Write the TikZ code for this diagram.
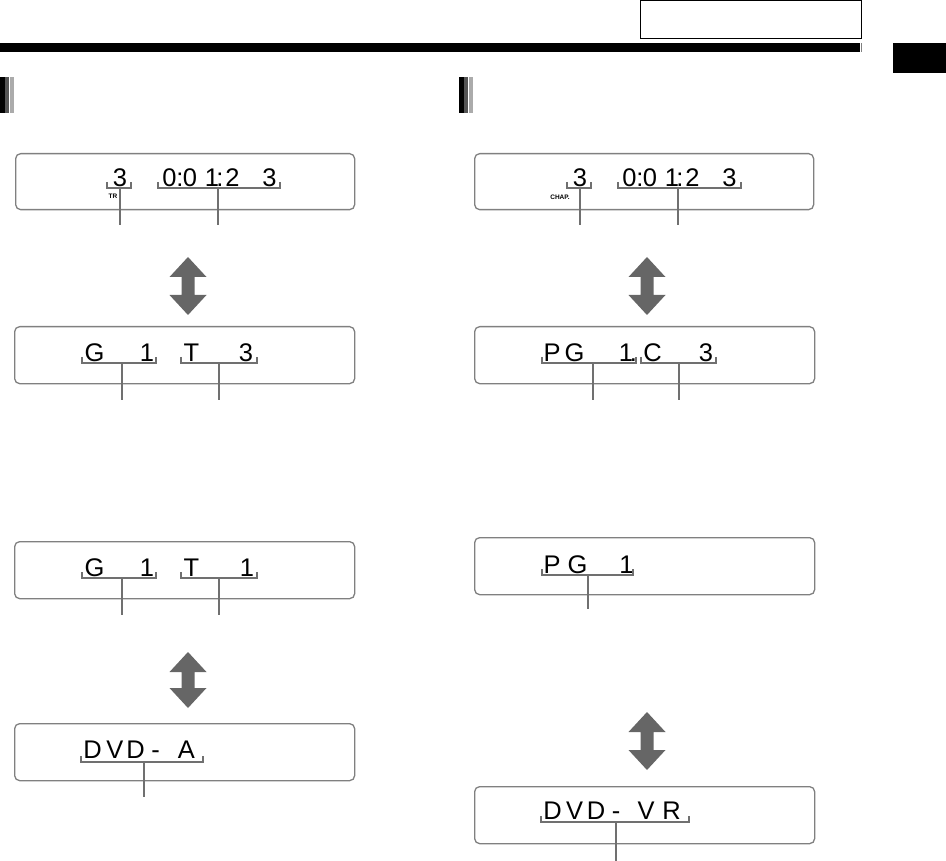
\documentclass[tikz,border=0pt]{standalone}
\usepackage{fontspec}
\setmainfont{Liberation Sans}
\newfontfamily\dispfont{Liberation Sans}
\definecolor{brk}{HTML}{707070}
\definecolor{frame}{HTML}{808080}
\definecolor{arr}{HTML}{666666}
\tikzset{
  disp/.style={draw=frame, line width=1.3pt, rounded corners=5pt},
  dch/.style={anchor=base, inner sep=0pt, font=\dispfont\fontsize{25.5}{25.5}\selectfont},
  tiny/.style={anchor=base, inner sep=0pt, font=\fontsize{6.5}{6.5}\selectfont\bfseries},
  brack/.style={draw=brk, line width=1.8pt},
  updown/.style={fill=arr, draw=none},
}
\newcommand\dbrack[5]{% x1 x2 y stemx stemend
  \draw[brack] (#1,#3-6) -- (#1,#3) -- (#2,#3) -- (#2,#3-6);
  \coordinate (s#4) at (#4,#3);
  \coordinate (e#4) at (#4,#5);
  \draw[brack] (s#4) -- (e#4);
}
\newcommand\udarrow[4]{% name cx ytop ybottom
  \fill[updown] (#2,#3) -- (#2+18.5,#3+20) -- (#2+6.5,#3+20) -- (#2+6.5,#4-20) -- (#2+18.5,#4-20)
     -- (#2,#4) -- (#2-18.5,#4-20) -- (#2-6.5,#4-20) -- (#2-6.5,#3+20) -- (#2-18.5,#3+20) -- cycle;
  \coordinate (#1) at (#2,#3);
}
\begin{document}
\begin{tikzpicture}[x=1pt,y=-1pt]
\useasboundingbox (0,0) rectangle (946,861);
% header
\node[draw=black, line width=1pt, minimum width=221pt, minimum height=38pt, anchor=north west, inner sep=0pt] (hbox) at (640,0.5) {};
\fill[black] (0,43) rectangle (860,52);
\draw[gray, line width=0.8pt] (861.5,43) -- (861.5,52);
\fill[black] (893,43) rectangle (946,73);
% section markers
\fill[black] (0,77) rectangle (5,113);
\fill[black!67] (5,77) rectangle (9,113);
\fill[black!33] (10,77) rectangle (14,113);
\fill[black] (459,77) rectangle (464,113);
\fill[black!67] (464,77) rectangle (468,113);
\fill[black!33] (469,77) rectangle (473,113);

% displays
\node[disp, anchor=north west, minimum width=339pt, minimum height=56pt] (L1) at (15,153) {};
\node[disp, anchor=north west, minimum width=340pt, minimum height=57pt] (L2) at (14,326) {};
\node[disp, anchor=north west, minimum width=340pt, minimum height=57pt] (L3) at (14,541) {};
\node[disp, anchor=north west, minimum width=340pt, minimum height=57pt] (L4) at (14,723) {};
\node[disp, anchor=north west, minimum width=339pt, minimum height=56pt] (R1) at (474,153) {};
\node[disp, anchor=north west, minimum width=340pt, minimum height=57pt] (R2) at (474,326) {};
\node[disp, anchor=north west, minimum width=340pt, minimum height=57pt] (R3) at (474,537) {};
\node[disp, anchor=north west, minimum width=340pt, minimum height=57pt] (R4) at (474,786) {};

% L1 text
\node[dch] (l1a) at (120,187) {3};
\node[tiny] (l1tr) at (113,199) {TR};
\node[dch] (l1b) at (169.5,187) {0};
\node[dch] (l1c) at (180,187) {:};
\node[dch] (l1d) at (190,187) {0};
\node[dch] (l1e) at (212,187) {1};
\node[dch] (l1f) at (220,187) {:};
\node[dch] (l1g) at (232.5,187) {2};
\node[dch] (l1h) at (269.5,187) {3};
\dbrack{107}{131}{188}{120}{225}
\dbrack{158}{280}{188}{218}{225}

% R1 text
\node[dch] (r1a) at (580,187) {3};
\node[tiny] (r1ch) at (560,200) {CHAP.};
\node[dch] (r1b) at (629.5,187) {0};
\node[dch] (r1c) at (640,187) {:};
\node[dch] (r1d) at (650,187) {0};
\node[dch] (r1e) at (672,187) {1};
\node[dch] (r1f) at (680,187) {:};
\node[dch] (r1g) at (692.5,187) {2};
\node[dch] (r1h) at (729.5,187) {3};
\dbrack{567}{591}{188}{580}{225}
\dbrack{618}{741}{188}{678}{225}

% L2
\node[dch] (l2a) at (94.5,361) {G};
\node[dch] (l2b) at (147,361) {1};
\node[dch] (l2c) at (191.5,361) {T};
\node[dch] (l2d) at (246,361) {3};
\dbrack{82}{156}{363}{122}{400}
\dbrack{181}{257}{363}{219}{400}

% R2
\node[dch] (r2a) at (552,361) {P};
\node[dch] (r2b) at (574.5,361) {G};
\node[dch] (r2c) at (626,361) {1};
\node[dch] (r2d) at (633.5,361) {.};
\node[dch] (r2e) at (652.5,361) {C};
\node[dch] (r2f) at (706,361) {3};
\dbrack{542}{636}{363}{593}{400}
\dbrack{641}{716}{363}{679}{400}

% L3
\node[dch] (l3a) at (94.5,576) {G};
\node[dch] (l3b) at (147,576) {1};
\node[dch] (l3c) at (191.5,576) {T};
\node[dch] (l3d) at (247,576) {1};
\dbrack{82}{156}{578}{122}{615}
\dbrack{181}{257}{578}{219}{615}

% R3
\node[dch] (r3a) at (552,573) {P};
\node[dch] (r3b) at (577.5,573) {G};
\node[dch] (r3c) at (626.5,573) {1};
\dbrack{542}{633}{575}{588}{609}

% L4
\node[dch] (l4a) at (92.5,758) {D};
\node[dch] (l4b) at (115,758) {V};
\node[dch] (l4c) at (135.5,758) {D};
\node[dch] (l4d) at (155.5,758) {-};
\node[dch] (l4e) at (186.5,758) {A};
\dbrack{81}{203}{762}{144}{797}

% R4
\node[dch] (r4a) at (552.5,819) {D};
\node[dch] (r4b) at (574.5,819) {V};
\node[dch] (r4c) at (596,819) {D};
\node[dch] (r4d) at (616,819) {-};
\node[dch] (r4e) at (646,819) {V};
\node[dch] (r4f) at (671.7,819) {R};
\dbrack{541}{689}{822}{616}{861}

% arrows
\udarrow{aL1}{188}{257}{315}
\udarrow{aL2}{188}{652}{708}
\udarrow{aR1}{647}{257}{315}
\udarrow{aR2}{647}{712}{770}
\end{tikzpicture}
\end{document}
